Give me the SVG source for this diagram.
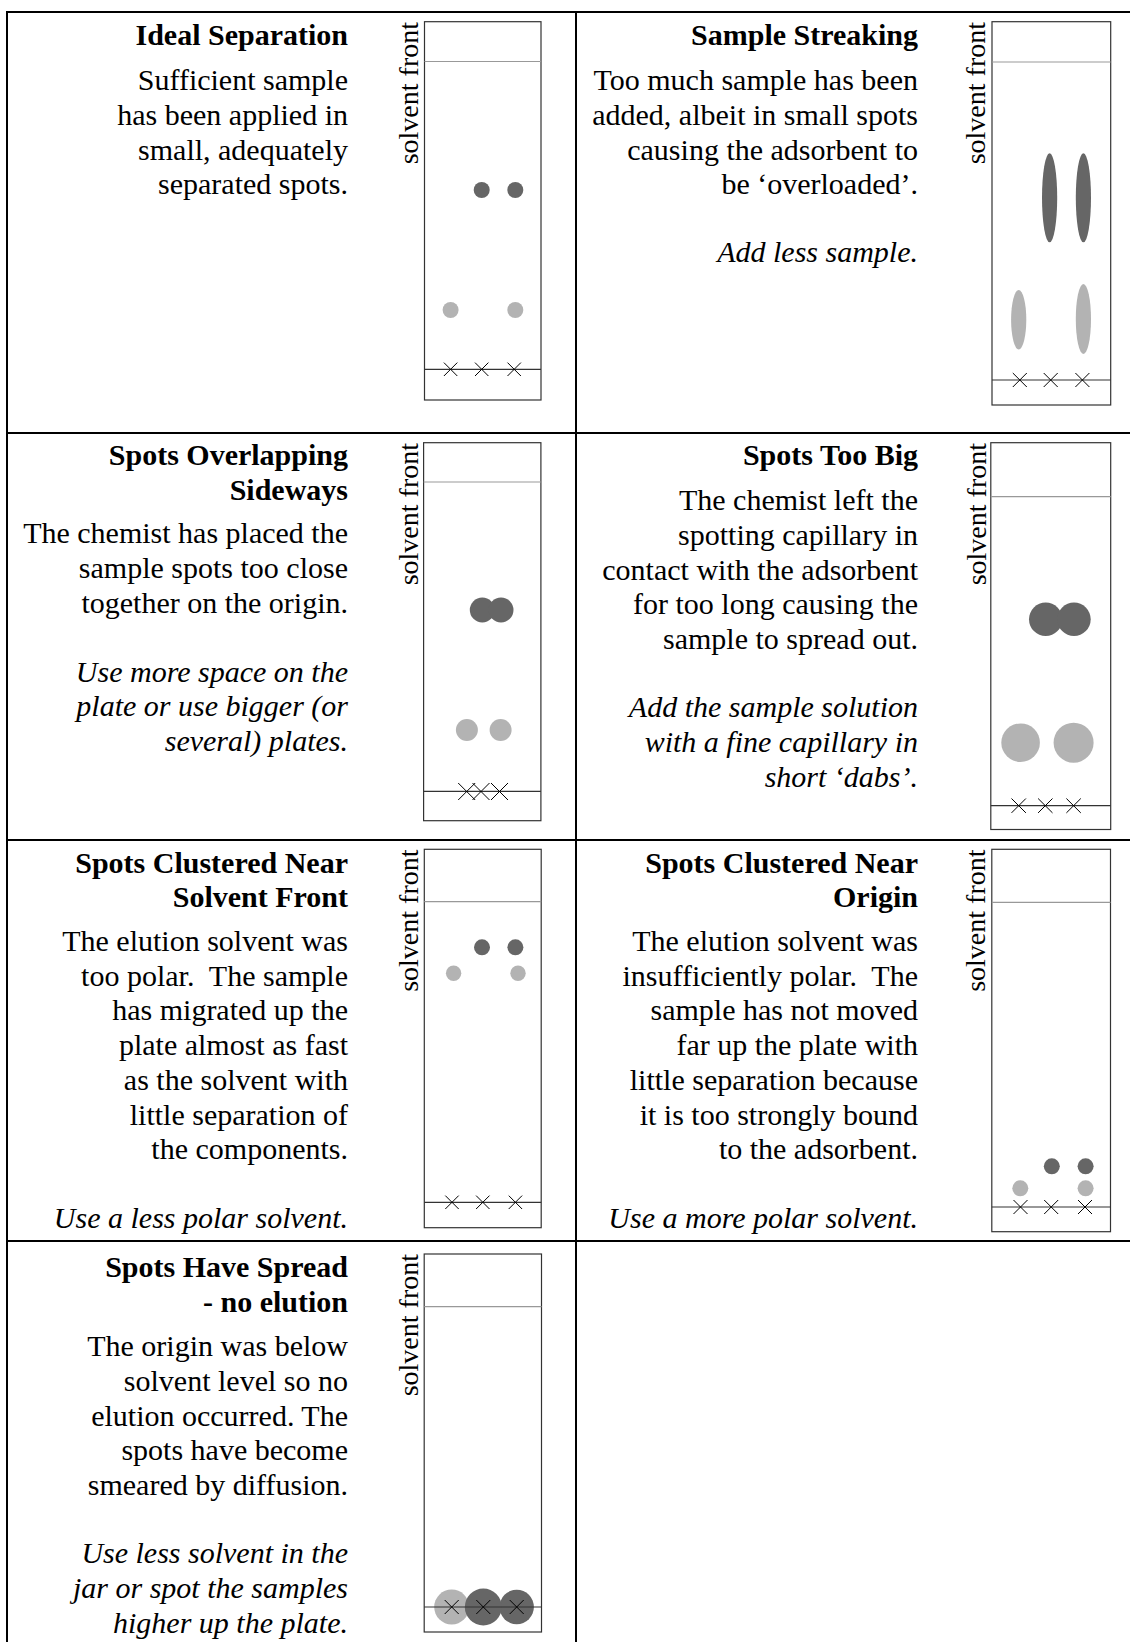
<svg xmlns="http://www.w3.org/2000/svg" width="1130" height="1642" viewBox="0 0 1130 1642">
<style>
.t{font-family:"Liberation Serif","Times New Roman",serif;font-size:30px;fill:#000;text-anchor:end}
.b{font-weight:bold}
.i{font-style:italic}
.sf{font-family:"Liberation Serif","Times New Roman",serif;font-size:28px;fill:#000;text-anchor:end}
.grid{stroke:#000;stroke-width:2;fill:none}
.plate{fill:#fff;stroke:#333;stroke-width:1.2}
.front{stroke:#999;stroke-width:1.2}
.origin{stroke:#333;stroke-width:1.2}
.x{stroke:#000;stroke-width:1;fill:none}
.dk{fill:#666}
.lt{fill:#b3b3b3}
</style>
<rect width="1130" height="1642" fill="#fff"/>
<g id="grid" class="grid">
<line x1="7" y1="12" x2="1130" y2="12"/>
<line x1="7" y1="11" x2="7" y2="1642"/>
<line x1="576" y1="11" x2="576" y2="1642"/>
<line x1="6" y1="433" x2="1130" y2="433"/>
<line x1="6" y1="840" x2="1130" y2="840"/>
<line x1="6" y1="1241" x2="1130" y2="1241"/>
</g>

<g id="ideal-separation">
<text class="t b" x="348" y="45">Ideal Separation</text>
<text class="t" x="348" y="90">Sufficient sample</text>
<text class="t" x="348" y="125">has been applied in</text>
<text class="t" x="348" y="159.5">small, adequately</text>
<text class="t" x="348" y="194.3">separated spots.</text>
<text class="sf" transform="translate(418,22) rotate(-90)">solvent front</text>
<rect class="plate" x="424.5" y="21.7" width="116.5" height="378.3"/>
<line class="front" x1="424.5" y1="61.5" x2="541" y2="61.5"/>
<circle class="dk" cx="481.7" cy="190" r="8"/>
<circle class="dk" cx="515.3" cy="190" r="8"/>
<circle class="lt" cx="450.6" cy="310" r="8"/>
<circle class="lt" cx="515.3" cy="310" r="8"/>
<line class="origin" x1="424.5" y1="369.3" x2="541" y2="369.3"/>
<path class="x" d="M443.9,362.6L457.3,376M443.9,376L457.3,362.6M475,362.6L488.4,376M475,376L488.4,362.6M507.5,362.6L520.9,376M507.5,376L520.9,362.6"/>
</g>

<g id="sample-streaking">
<text class="t b" x="918" y="45">Sample Streaking</text>
<text class="t" x="918" y="90">Too much sample has been</text>
<text class="t" x="918" y="125">added, albeit in small spots</text>
<text class="t" x="918" y="159.5">causing the adsorbent to</text>
<text class="t" x="918" y="194.3">be ‘overloaded’.</text>
<text class="t i" x="918" y="262">Add less sample.</text>
<text class="sf" transform="translate(984.5,22) rotate(-90)">solvent front</text>
<rect class="plate" x="992" y="21.7" width="118.7" height="383.3"/>
<line class="front" x1="992" y1="62" x2="1110.7" y2="62"/>
<ellipse class="dk" cx="1049.6" cy="197.8" rx="7.6" ry="44.5"/>
<ellipse class="dk" cx="1083.4" cy="197.8" rx="7.6" ry="44.5"/>
<ellipse class="lt" cx="1018.7" cy="319.7" rx="7.6" ry="29.7"/>
<ellipse class="lt" cx="1083.4" cy="319" rx="7.6" ry="35"/>
<line class="origin" x1="992" y1="380" x2="1110.7" y2="380"/>
<path class="x" d="M1012.8,373L1026.8,387M1012.8,387L1026.8,373M1043.7,373L1057.7,387M1043.7,387L1057.7,373M1075.4,373L1089.4,387M1075.4,387L1089.4,373"/>
</g>

<g id="spots-overlapping-sideways">
<text class="t b" x="348" y="465">Spots Overlapping</text>
<text class="t b" x="348" y="500">Sideways</text>
<text class="t" x="348" y="543.4">The chemist has placed the</text>
<text class="t" x="348" y="578.2">sample spots too close</text>
<text class="t" x="348" y="612.8">together on the origin.</text>
<text class="t i" x="348" y="681.7">Use more space on the</text>
<text class="t i" x="348" y="716.3">plate or use bigger (or</text>
<text class="t i" x="348" y="751">several) plates.</text>
<text class="sf" transform="translate(418,443) rotate(-90)">solvent front</text>
<rect class="plate" x="423.6" y="442.7" width="117.3" height="378"/>
<line class="front" x1="423.6" y1="482" x2="540.9" y2="482"/>
<circle class="dk" cx="482.3" cy="610" r="12.5"/>
<circle class="dk" cx="501" cy="610" r="12.5"/>
<circle class="lt" cx="466.9" cy="730" r="11"/>
<circle class="lt" cx="500.6" cy="730" r="11"/>
<line class="origin" x1="423.6" y1="791.3" x2="540.9" y2="791.3"/>
<path class="x" d="M458.2,783L475.2,800M458.2,800L475.2,783M472.5,783L489.5,800M472.5,800L489.5,783M491,783L508,800M491,800L508,783"/>
</g>

<g id="spots-too-big">
<text class="t b" x="918" y="465">Spots Too Big</text>
<text class="t" x="918" y="510">The chemist left the</text>
<text class="t" x="918" y="545">spotting capillary in</text>
<text class="t" x="918" y="579.5">contact with the adsorbent</text>
<text class="t" x="918" y="614.3">for too long causing the</text>
<text class="t" x="918" y="649.2">sample to spread out.</text>
<text class="t i" x="918" y="716.7">Add the sample solution</text>
<text class="t i" x="918" y="751.7">with a fine capillary in</text>
<text class="t i" x="918" y="786.7">short ‘dabs’.</text>
<text class="sf" transform="translate(986,443) rotate(-90)">solvent front</text>
<rect class="plate" x="990.8" y="442.7" width="119.9" height="386.8"/>
<line class="front" x1="990.8" y1="496.7" x2="1110.7" y2="496.7"/>
<circle class="dk" cx="1045.7" cy="619.3" r="16.7"/>
<circle class="dk" cx="1074" cy="619.3" r="16.7"/>
<circle class="lt" cx="1020.6" cy="742.7" r="19.3"/>
<circle class="lt" cx="1073.6" cy="742.7" r="20"/>
<line class="origin" x1="990.8" y1="805.7" x2="1110.7" y2="805.7"/>
<path class="x" d="M1011.5,798.5L1025.9,812.9M1011.5,812.9L1025.9,798.5M1038.1,798.5L1052.5,812.9M1038.1,812.9L1052.5,798.5M1066.4,798.5L1080.8,812.9M1066.4,812.9L1080.8,798.5"/>
</g>

<g id="spots-clustered-near-solvent-front">
<text class="t b" x="348" y="872.7">Spots Clustered Near</text>
<text class="t b" x="348" y="907.3">Solvent Front</text>
<text class="t" x="348" y="950.7">The elution solvent was</text>
<text class="t" x="348" y="985.6">too polar.&#160; The sample</text>
<text class="t" x="348" y="1020.3">has migrated up the</text>
<text class="t" x="348" y="1055.1">plate almost as fast</text>
<text class="t" x="348" y="1089.9">as the solvent with</text>
<text class="t" x="348" y="1124.7">little separation of</text>
<text class="t" x="348" y="1159.4">the components.</text>
<text class="t i" x="348" y="1228.3">Use a less polar solvent.</text>
<text class="sf" transform="translate(417.5,849.5) rotate(-90)">solvent front</text>
<rect class="plate" x="424.3" y="849.3" width="116.9" height="378.4"/>
<line class="front" x1="424.3" y1="901.7" x2="541.2" y2="901.7"/>
<circle class="dk" cx="482" cy="947.3" r="8"/>
<circle class="dk" cx="515.4" cy="947.3" r="8"/>
<circle class="lt" cx="453.6" cy="973.3" r="7.7"/>
<circle class="lt" cx="518" cy="973.3" r="7.7"/>
<line class="origin" x1="424.3" y1="1202.3" x2="541.2" y2="1202.3"/>
<path class="x" d="M445.3,1195.6L458.7,1209M445.3,1209L458.7,1195.6M476.1,1195.6L489.5,1209M476.1,1209L489.5,1195.6M508.7,1195.6L522.1,1209M508.7,1209L522.1,1195.6"/>
</g>

<g id="spots-clustered-near-origin">
<text class="t b" x="918" y="872.7">Spots Clustered Near</text>
<text class="t b" x="918" y="907.3">Origin</text>
<text class="t" x="918" y="950.7">The elution solvent was</text>
<text class="t" x="918" y="985.6">insufficiently polar.&#160; The</text>
<text class="t" x="918" y="1020.3">sample has not moved</text>
<text class="t" x="918" y="1055.1">far up the plate with</text>
<text class="t" x="918" y="1089.9">little separation because</text>
<text class="t" x="918" y="1124.7">it is too strongly bound</text>
<text class="t" x="918" y="1159.4">to the adsorbent.</text>
<text class="t i" x="918" y="1228.3">Use a more polar solvent.</text>
<text class="sf" transform="translate(984.6,849.5) rotate(-90)">solvent front</text>
<rect class="plate" x="991.8" y="849.3" width="118.7" height="382.4"/>
<line class="front" x1="991.8" y1="902.3" x2="1110.5" y2="902.3"/>
<circle class="dk" cx="1051.8" cy="1166.3" r="8"/>
<circle class="dk" cx="1085.6" cy="1166.3" r="8"/>
<circle class="lt" cx="1020.3" cy="1188.3" r="8"/>
<circle class="lt" cx="1085.6" cy="1188.3" r="8"/>
<line class="origin" x1="991.8" y1="1207" x2="1110.5" y2="1207"/>
<path class="x" d="M1013.5,1200L1027.5,1214M1013.5,1214L1027.5,1200M1044.2,1200L1058.2,1214M1044.2,1214L1058.2,1200M1078,1200L1092,1214M1078,1214L1092,1200"/>
</g>

<g id="spots-have-spread">
<text class="t b" x="348" y="1277.3">Spots Have Spread</text>
<text class="t b" x="348" y="1311.7">- no elution</text>
<text class="t" x="348" y="1356">The origin was below</text>
<text class="t" x="348" y="1390.8">solvent level so no</text>
<text class="t" x="348" y="1425.6">elution occurred. The</text>
<text class="t" x="348" y="1460.3">spots have become</text>
<text class="t" x="348" y="1495">smeared by diffusion.</text>
<text class="t i" x="348" y="1563.3">Use less solvent in the</text>
<text class="t i" x="348" y="1598">jar or spot the samples</text>
<text class="t i" x="348" y="1632.7">higher up the plate.</text>
<text class="sf" transform="translate(417.5,1254) rotate(-90)">solvent front</text>
<rect class="plate" x="424.2" y="1254" width="117.3" height="378"/>
<line class="front" x1="424.2" y1="1306.7" x2="541.5" y2="1306.7"/>
<circle class="lt" cx="451.7" cy="1607" r="17.5"/>
<circle class="dk" cx="516.7" cy="1607" r="17.2"/>
<circle class="dk" cx="483.3" cy="1607" r="18.5"/>
<line class="origin" x1="424.2" y1="1607" x2="541.5" y2="1607"/>
<path class="x" d="M444.7,1600L458.7,1614M444.7,1614L458.7,1600M476.3,1600L490.3,1614M476.3,1614L490.3,1600M509.7,1600L523.7,1614M509.7,1614L523.7,1600"/>
</g>
</svg>
